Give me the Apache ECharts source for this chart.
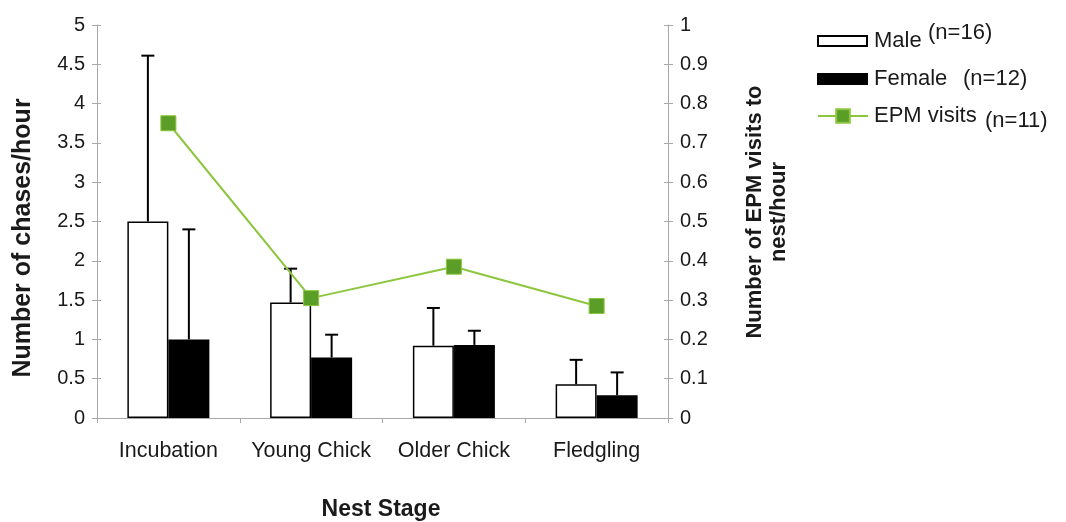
<!DOCTYPE html>
<html>
<head>
<meta charset="utf-8">
<script src="https://cdn.jsdelivr.net/npm/echarts@6/dist/echarts.min.js"></script>
<style>
  html, body { margin: 0; padding: 0; background: #fff; }
  #chart { width: 1066px; height: 522px; }
</style>
</head>
<body>
<div id="chart"></div>
<script>
// Nest stages along the x axis
const stages = ['Incubation', 'Young Chick', 'Older Chick', 'Fledgling'];

// Chases per hour (mean) and the upper error (SD) for each sex
const maleChases = [2.5, 1.47, 0.92, 0.43];
const maleErr = [2.11, 0.43, 0.48, 0.31];
const femaleChases = [1.0, 0.77, 0.93, 0.29];
const femaleErr = [1.40, 0.29, 0.18, 0.29];

// Extra-pair male visits to the nest per hour (right axis)
const epmVisits = [0.75, 0.305, 0.385, 0.285];

// Legend labels and sample sizes
const seriesNames = ['Male', 'Female', 'EPM visits'];
const sampleSizes = ['(n=16)', '(n=12)', '(n=11)'];

// Axis ticks
const leftAxisMax = 5, leftAxisStep = 0.5;
const rightAxisMax = 1, rightAxisStep = 0.1;

const FONT = 'Liberation Sans, Arial, Helvetica, sans-serif';
const TEXT = '#1a1a1a';
const AXIS_GRAY = '#a8a8a8';
const BAR_W = 41;
const GREEN_LINE = '#8cc63e';
const GREEN_FILL = '#5a9e28';

// Upper-only error bars, shifted to sit over the matching bar of the pair
function errorBar(shift) {
  return function (params, api) {
    const i = api.value(0);
    const top = api.coord([i, api.value(1) + api.value(2)]);
    const base = api.coord([i, api.value(1)]);
    const x = base[0] + shift;
    const cap = 6.5;
    const st = { stroke: '#000', lineWidth: 2 };
    return {
      type: 'group',
      children: [
        { type: 'line', shape: { x1: x, y1: base[1], x2: x, y2: top[1] }, style: st },
        { type: 'line', shape: { x1: x - cap, y1: top[1], x2: x + cap, y2: top[1] }, style: st }
      ]
    };
  };
}

const maleErrData = stages.map((s, i) => [i, maleChases[i], maleErr[i]]);
const femaleErrData = stages.map((s, i) => [i, femaleChases[i], femaleErr[i]]);

const chart = echarts.init(document.getElementById('chart'), null, { renderer: 'canvas' });

const valueAxisBase = {
  type: 'value',
  splitLine: { show: false },
  axisLine: { show: true, lineStyle: { color: AXIS_GRAY, width: 1 } },
  axisTick: { show: true, length: 5, lineStyle: { color: AXIS_GRAY } }
};

chart.setOption({
  animation: false,
  backgroundColor: '#fff',
  grid: { left: 97, right: 398, top: 25, bottom: 104 },
  legend: [
    {
      data: [
        { name: seriesNames[0], icon: 'rect' },
        { name: seriesNames[1], icon: 'rect' }
      ],
      orient: 'vertical',
      left: 817, top: 30, padding: 0,
      itemWidth: 49, itemHeight: 10, itemGap: 16,
      textStyle: { fontFamily: FONT, fontSize: 22, color: TEXT, padding: [0, 0, 0, 2] },
      selectedMode: false
    },
    {
      data: [seriesNames[2]],
      orient: 'vertical',
      left: 817, top: 105, padding: 0,
      itemWidth: 50, itemHeight: 17,
      textStyle: { fontFamily: FONT, fontSize: 22, color: TEXT, padding: [0, 0, 0, 1] },
      selectedMode: false
    }
  ],
  xAxis: {
    type: 'category',
    data: stages,
    axisLine: { show: true, lineStyle: { color: AXIS_GRAY, width: 1 } },
    axisTick: { show: true, interval: 0, length: 5, lineStyle: { color: AXIS_GRAY } },
    axisLabel: { interval: 0, fontFamily: FONT, fontSize: 21.5, color: TEXT, margin: 22 }
  },
  yAxis: [
    Object.assign({}, valueAxisBase, {
      position: 'left',
      min: 0, max: leftAxisMax, interval: leftAxisStep,
      axisLabel: { fontFamily: FONT, fontSize: 20, color: TEXT, margin: 12 }
    }),
    Object.assign({}, valueAxisBase, {
      position: 'right',
      min: 0, max: rightAxisMax, interval: rightAxisStep,
      axisLabel: { fontFamily: FONT, fontSize: 20, color: TEXT, margin: 12 }
    }),
    // inner halves of the tick marks so they cross each axis line
    Object.assign({}, valueAxisBase, {
      position: 'left',
      min: 0, max: leftAxisMax, interval: leftAxisStep,
      axisLine: { show: false },
      axisTick: { show: true, inside: true, length: 4, lineStyle: { color: AXIS_GRAY } },
      axisLabel: { show: false }
    }),
    Object.assign({}, valueAxisBase, {
      position: 'right',
      min: 0, max: rightAxisMax, interval: rightAxisStep,
      axisLine: { show: false },
      axisTick: { show: true, inside: true, length: 4, lineStyle: { color: AXIS_GRAY } },
      axisLabel: { show: false }
    })
  ],
  series: [
    {
      name: seriesNames[0],
      type: 'bar',
      data: maleChases,
      barWidth: BAR_W,
      barGap: '0%',
      itemStyle: { color: '#ffffff', borderColor: '#000', borderWidth: 1.5 }
    },
    {
      name: seriesNames[1],
      type: 'bar',
      data: femaleChases,
      barWidth: BAR_W,
      barGap: '0%',
      itemStyle: { color: '#000000', borderColor: '#000', borderWidth: 1.5 }
    },
    {
      type: 'custom',
      renderItem: errorBar(-BAR_W / 2),
      data: maleErrData,
      encode: { x: 0, y: [1, 2] },
      z: 3
    },
    {
      type: 'custom',
      renderItem: errorBar(BAR_W / 2),
      data: femaleErrData,
      encode: { x: 0, y: [1, 2] },
      z: 3
    },
    {
      name: seriesNames[2],
      type: 'line',
      yAxisIndex: 1,
      data: epmVisits,
      symbol: 'rect',
      symbolSize: 15,
      lineStyle: { color: GREEN_LINE, width: 2 },
      itemStyle: { color: GREEN_FILL, borderColor: GREEN_LINE, borderWidth: 1 },
      z: 4
    }
  ],
  graphic: [
    {
      type: 'text', x: 23, y: 238, rotation: Math.PI / 2,
      style: {
        text: 'Number of chases/hour', font: 'bold 25px ' + FONT,
        fill: TEXT, textAlign: 'center', textVerticalAlign: 'middle'
      }
    },
    {
      type: 'text', x: 767, y: 212, rotation: Math.PI / 2,
      style: {
        text: 'Number of EPM visits to\nnest/hour', font: 'bold 22px ' + FONT,
        fill: TEXT, textAlign: 'center', textVerticalAlign: 'middle', lineHeight: 24
      }
    },
    {
      type: 'text', x: 381, y: 510,
      style: {
        text: 'Nest Stage', font: 'bold 23px ' + FONT,
        fill: TEXT, textAlign: 'center', textVerticalAlign: 'middle'
      }
    },
    {
      type: 'text', x: 928, y: 33,
      style: { text: sampleSizes[0], font: '22px ' + FONT, fill: TEXT, textVerticalAlign: 'middle' }
    },
    {
      type: 'text', x: 963, y: 79,
      style: { text: sampleSizes[1], font: '22px ' + FONT, fill: TEXT, textVerticalAlign: 'middle' }
    },
    {
      type: 'text', x: 985, y: 121,
      style: { text: sampleSizes[2], font: '22px ' + FONT, fill: TEXT, textVerticalAlign: 'middle' }
    }
  ]
});
</script>
</body>
</html>
